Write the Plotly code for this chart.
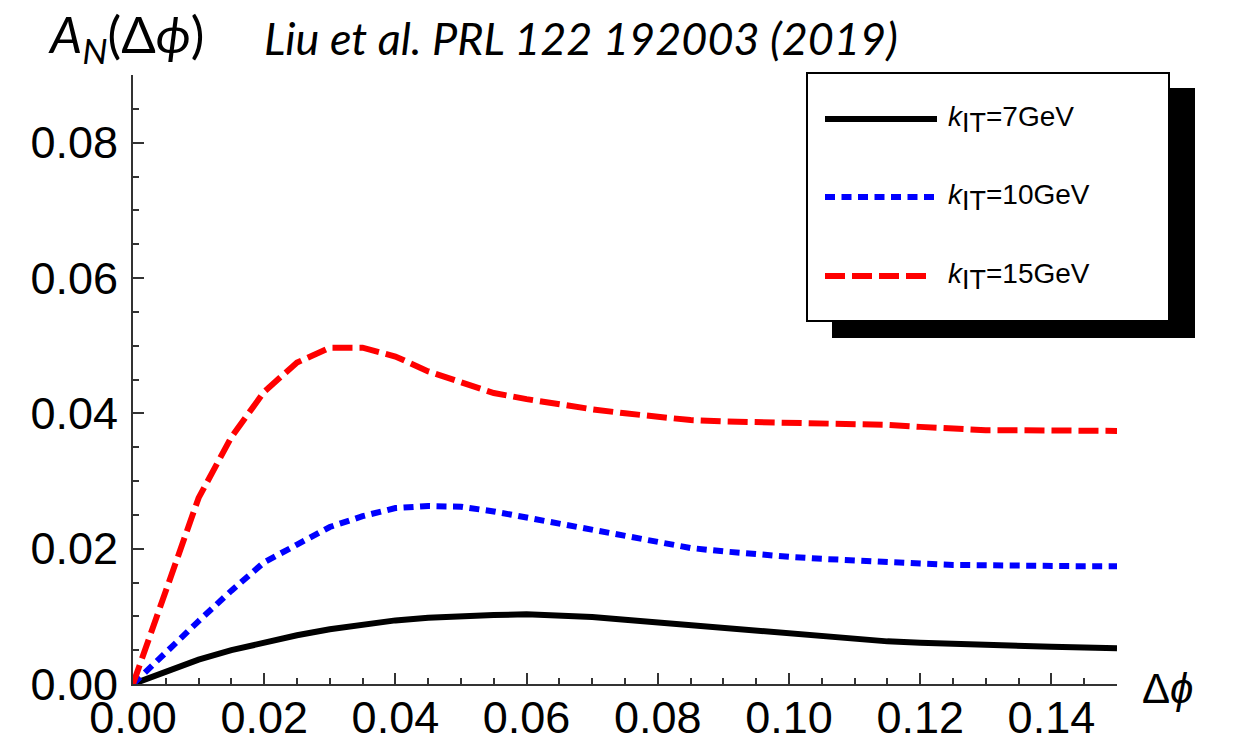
import plotly.graph_objects as go

# Azimuthal-angle grid and asymmetry curves for three kT values
dphi = [0.000, 0.005, 0.010, 0.015, 0.020, 0.025, 0.030, 0.035, 0.040, 0.045,
        0.050, 0.055, 0.060, 0.065, 0.070, 0.075, 0.080, 0.085, 0.090, 0.095,
        0.100, 0.105, 0.110, 0.115, 0.120, 0.125, 0.130, 0.135, 0.140, 0.145,
        0.150]

an_7gev = [0.0000, 0.0019, 0.0036, 0.0050, 0.0062, 0.0072, 0.0081, 0.0088, 0.0094, 0.0098,
           0.0101, 0.0102, 0.0103, 0.0102, 0.0099, 0.0095, 0.0091, 0.0086, 0.0081, 0.0077,
           0.0073, 0.0069, 0.0066, 0.0063, 0.0061, 0.0059, 0.0057, 0.0056, 0.0055, 0.0054,
           0.0053]

an_10gev = [0.0000, 0.0048, 0.0093, 0.0138, 0.0180, 0.0206, 0.0232, 0.0248, 0.0260, 0.0263,
            0.0262, 0.0255, 0.0246, 0.0236, 0.0226, 0.0218, 0.0208, 0.0201, 0.0196, 0.0191,
            0.0188, 0.0185, 0.0182, 0.0180, 0.0178, 0.0176, 0.0175, 0.0174, 0.0174, 0.0174,
            0.0174]

an_15gev = [0.0000, 0.0135, 0.0275, 0.0365, 0.0432, 0.0475, 0.0497, 0.0497, 0.0484, 0.0462,
            0.0445, 0.0430, 0.0421, 0.0413, 0.0406, 0.0400, 0.0395, 0.0390, 0.0388, 0.0387,
            0.0387, 0.0387, 0.0386, 0.0383, 0.0380, 0.0377, 0.0375, 0.0375, 0.0375, 0.0374,
            0.0374]

series_values = [an_7gev, an_10gev, an_15gev]
series_labels = ["7GeV", "10GeV", "15GeV"]
series_colors = ["#000000", "#0000ff", "#ff0000"]
series_dashes = ["solid", "10px,6.5px", "20px,7px"]

x_ticks = [0.00, 0.02, 0.04, 0.06, 0.08, 0.10, 0.12, 0.14]
y_ticks = [0.00, 0.02, 0.04, 0.06, 0.08]

W, H = 1233, 742
L, R, T, B = 133, 116, 75, 58
PW, PH = W - L - R, H - T - B
LINE_W = 6


def px(xp):
    return (xp - L) / PW


def py(yp):
    return (H - B - yp) / PH


fig = go.Figure()
for vals, col, dash in zip(series_values, series_colors, series_dashes):
    fig.add_trace(go.Scatter(
        x=dphi, y=vals, mode="lines",
        line=dict(color=col, width=LINE_W, dash=dash),
        showlegend=False, hoverinfo="skip",
    ))

axis_common = dict(
    showgrid=False, zeroline=False, automargin=False,
    showline=True, linecolor="#333333", linewidth=2,
    ticks="inside", ticklen=11, tickwidth=2, tickcolor="#333333",
    tickformat=".2f",
    minor=dict(ticks="inside", ticklen=6, tickwidth=2, tickcolor="#333333", dtick=0.005),
)
tick_font = dict(family="Liberation Sans, Arial, sans-serif", size=45, color="#000000")

fig.update_xaxes(range=[0, 0.15], tickvals=x_ticks, ticklabelstandoff=-7,
                 tickfont=tick_font, **axis_common)
fig.update_yaxes(range=[0, 0.09], tickvals=y_ticks, ticklabelstandoff=4,
                 tickfont=tick_font, **axis_common)

shapes = []
# Legend frame with a drop shadow
shapes.append(dict(type="rect", xref="paper", yref="paper",
                   x0=px(832), x1=px(1195), y0=py(338), y1=py(88),
                   fillcolor="#000000", line=dict(width=0), layer="above"))
shapes.append(dict(type="rect", xref="paper", yref="paper",
                   x0=px(807), x1=px(1169), y0=py(321), y1=py(73),
                   fillcolor="#ffffff", line=dict(color="#000000", width=2), layer="above"))

legend_rows = [119, 197, 276]
sample_ends = [937, 935, 926]
annotations = []
for row, end, lab, col, dash in zip(legend_rows, sample_ends, series_labels,
                                    series_colors, series_dashes):
    shapes.append(dict(type="line", xref="paper", yref="paper",
                       x0=px(825), x1=px(end), y0=py(row), y1=py(row),
                       line=dict(color=col, width=LINE_W, dash=dash), layer="above"))
    annotations.append(dict(
        xref="paper", yref="paper", x=px(946), y=py(row),
        xanchor="left", yanchor="middle", showarrow=False,
        text="<i>k</i><sub><span style='font-size:27px'>IT</span></sub>=" + lab,
        font=dict(family="Liberation Sans, Arial, sans-serif", size=28, color="#000000"),
    ))

# Axis titles and citation
annotations.append(dict(
    xref="paper", yref="paper", x=px(46), y=py(37),
    xanchor="left", yanchor="middle", showarrow=False,
    text="<i>A</i><sub><i>N</i></sub>(Δ<i>ϕ</i>)",
    font=dict(family="Lato, sans-serif", size=51, color="#000000"),
))
annotations.append(dict(
    xref="paper", yref="paper", x=px(262), y=py(38),
    xanchor="left", yanchor="middle", showarrow=False,
    text="<i>Liu et al. PRL 122 192003 (2019)</i>",
    font=dict(family="Lato, sans-serif", size=45, color="#000000"),
))
annotations.append(dict(
    xref="paper", yref="paper", x=px(1140), y=py(688),
    xanchor="left", yanchor="middle", showarrow=False,
    text="Δ<i>ϕ</i>",
    font=dict(family="Liberation Sans, Arial, sans-serif", size=42, color="#000000"),
))

fig.update_layout(
    width=W, height=H,
    margin=dict(l=L, r=R, t=T, b=B),
    paper_bgcolor="#ffffff", plot_bgcolor="#ffffff",
    shapes=shapes, annotations=annotations,
    showlegend=False,
)

fig.write_html("out.html")
